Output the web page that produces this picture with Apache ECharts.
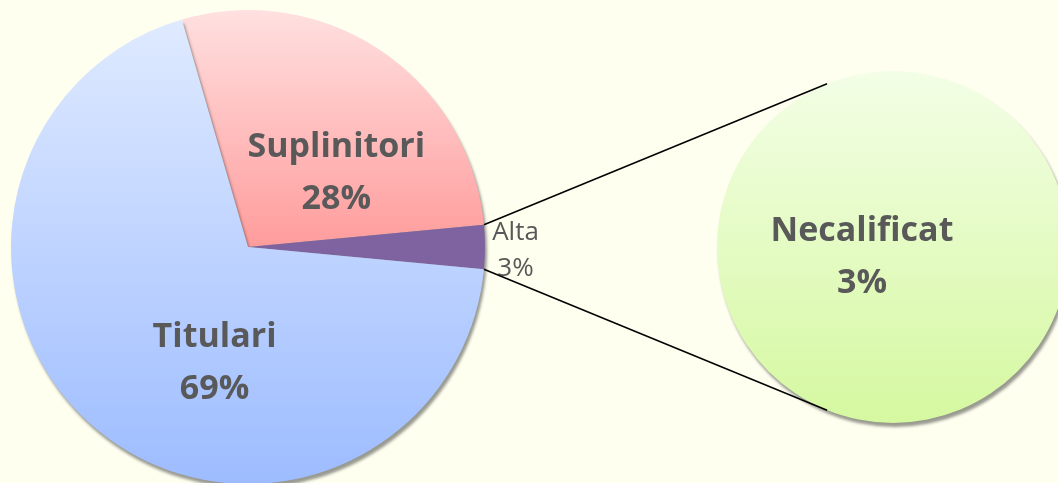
<!doctype html>
<html lang="ro">

<head>
    <meta charset="utf-8">
    <title>Pie of pie</title>
    <script src="https://cdn.jsdelivr.net/npm/echarts@6/dist/echarts.min.js"></script>
    <style>
        html, body { margin: 0; padding: 0; background: #FEFFEF; }
        #chart { width: 1058px; height: 483px; }
    </style>
</head>

<body>
    <div id="chart"></div>
    <script type="text/javascript">
        // main pie
        var mainNames = ['Suplinitori', 'Alta', 'Titulari'];
        var mainValues = [28, 3, 69];
        // secondary pie (breakdown of "Alta")
        var subNames = ['Necalificat'];
        var subValues = [3];

        var C1 = [248, 247], R1 = 237;
        var C2 = [893, 247], R2 = 176;
        var total = mainValues.reduce(function (a, b) { return a + b; }, 0);
        var altaIdx = mainNames.indexOf('Alta');
        var altaSpan = mainValues[altaIdx] / total * 360;
        var before = 0;
        for (var i = 0; i < altaIdx; i++) before += mainValues[i] / total * 360;
        // rotate so the "Alta" slice is centred on the right side
        var startAngle = before + altaSpan / 2;

        function grad(top, bottom) {
            return {
                type: 'linear', x: 0, y: 0, x2: 0, y2: 1,
                colorStops: [{ offset: 0, color: top }, { offset: 1, color: bottom }]
            };
        }
        var colors = {
            'Suplinitori': grad('#FFE0E0', '#FF9C9C'),
            'Alta': '#7F63A1',
            'Titulari': grad('#DFEAFF', '#9DBCFF'),
            'Necalificat': grad('#F3FEE6', '#D5F8A0')
        };
        var labelOffsets = {
            'Suplinitori': [20, 27],
            'Alta': [146, 4],
            'Titulari': [44, 23]
        };

        var bigLabel = {
            color: '#595959',
            fontFamily: 'Open Sans',
            fontWeight: 'bold',
            fontSize: 34,
            lineHeight: 52,
            formatter: '{b}\n{d}%'
        };

        var mainData = mainNames.map(function (n, i) {
            var lbl = Object.assign({}, bigLabel, { position: 'inner', offset: labelOffsets[n] });
            if (n === 'Alta') {
                lbl = { position: 'inner', offset: labelOffsets[n], color: '#595959', fontFamily: 'Open Sans', fontSize: 26, lineHeight: 36, formatter: '{b}\n{d}%' };
            }
            return { name: n, value: mainValues[i], itemStyle: { color: colors[n] }, label: lbl };
        });
        var subData = subNames.map(function (n, i) {
            return {
                name: n, value: subValues[i], itemStyle: { color: colors[n] },
                label: Object.assign({}, bigLabel, { position: 'center', offset: [-31, 10], formatter: '{b}\n' + subValues[i] + '%' })
            };
        });

        // connector lines: from the edges of the "Alta" slice to the secondary pie
        var a1 = (startAngle - before) * Math.PI / 180;
        var a2 = (startAngle - before - altaSpan) * Math.PI / 180;
        var b = 112 * Math.PI / 180;
        function pt(c, r, a) { return [c[0] + r * Math.cos(a), c[1] - r * Math.sin(a)]; }
        var p1 = pt(C1, R1, a1), p2 = pt(C1, R1, a2);
        var q1 = pt(C2, R2, b), q2 = pt(C2, R2, -b);

        var shadow = { shadowBlur: 3, shadowOffsetX: 2, shadowOffsetY: 4, shadowColor: 'rgba(0,0,0,0.4)' };

        var chart = echarts.init(document.getElementById('chart'));
        chart.setOption({
            backgroundColor: '#FEFFEF',
            animation: false,
            series: [{
                type: 'pie',
                center: C1,
                radius: R1,
                startAngle: startAngle,
                clockwise: true,
                silent: true,
                labelLine: { show: false },
                itemStyle: shadow,
                data: mainData
            }, {
                type: 'pie',
                center: C2,
                radius: R2,
                silent: true,
                labelLine: { show: false },
                itemStyle: shadow,
                data: subData
            }],
            graphic: [{
                type: 'line', z: 10,
                shape: { x1: p1[0], y1: p1[1], x2: q1[0], y2: q1[1] },
                style: { stroke: '#000', lineWidth: 1.5 }
            }, {
                type: 'line', z: 10,
                shape: { x1: p2[0], y1: p2[1], x2: q2[0], y2: q2[1] },
                style: { stroke: '#000', lineWidth: 1.5 }
            }]
        });
    </script>
</body>

</html>
